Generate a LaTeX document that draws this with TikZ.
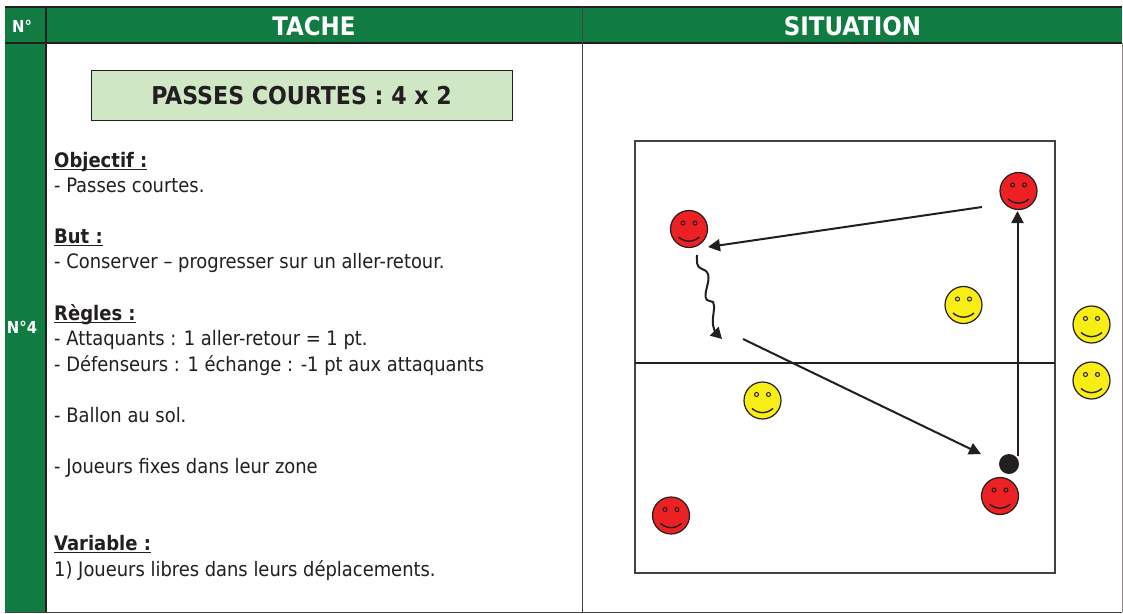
\documentclass[tikz,border=0pt]{standalone}
\usepackage{fontspec}
\setmainfont{DejaVu Sans Condensed}
\usetikzlibrary{arrows.meta}
\definecolor{hdrgreen}{RGB}{16,124,65}
\definecolor{lightgreen}{RGB}{208,231,198}
\definecolor{ink}{RGB}{35,31,32}
\definecolor{smred}{RGB}{237,32,36}
\definecolor{smyellow}{RGB}{248,237,20}
\tikzset{
  grid line/.style={draw=ink,line width=1.6pt},
  thin line/.style={draw=ink!85,line width=1pt},
  hdr/.style={text=white,font=\bfseries\fontsize{25.5}{28}\selectfont,anchor=center},
  hdrsmall/.style={text=white,font=\bfseries\fontsize{16.5}{18}\selectfont,anchor=center},
  body/.style={text=ink,font=\fontsize{19.9}{22}\selectfont,anchor=base west,inner sep=0pt},
  bodyhead/.style={text=ink,font=\bfseries\fontsize{20}{22}\selectfont,anchor=base west,inner sep=0pt},
  pass/.style={draw=ink,line width=2pt,-{Triangle[length=12pt,width=12pt]},shorten >=0pt},
  face/.style={circle,draw=ink,line width=1.2pt,minimum size=37pt,inner sep=0pt},
}
\newcommand{\smileyface}[4]{%
  \node[face,fill=#4] (#1) at (#2,#3) {};
  \draw[ink,line width=1pt] (#2-6,#3-6) circle[radius=2pt];
  \draw[ink,line width=1pt] (#2+6,#3-6) circle[radius=2pt];
  \draw[ink,line width=1.4pt] (#2-10.5,#3+8) .. controls (#2-4,#3+13.5) and (#2+4,#3+13.5) .. (#2+10.5,#3+8);
}
\newlength{\ullen}
\newcommand{\ulbf}[1]{\settowidth{\ullen}{#1}\rlap{\rule[-3.4pt]{\ullen}{1.8pt}}#1}
\begin{document}
\begin{tikzpicture}[x=1pt,y=-1pt]
\useasboundingbox (0,0) rectangle (1123,613);
\fill[white] (0,0) rectangle (1123,613);
% table
\fill[hdrgreen] (5,7) rectangle (1122,43);
\fill[hdrgreen] (5,43) rectangle (46,612);
\draw[grid line] (5,7) -- (1122,7);
\draw[grid line] (5,43) -- (1122,43);
\draw[grid line] (46,7) -- (46,612);
\draw[thin line] (582.5,7) -- (582.5,612);
\draw[thin line] (5,612) -- (1122,612);
\draw[draw=ink!55,line width=1pt] (1122,43) -- (1122,612);
\node[hdrsmall] (hn) at (22,26) {N°};
\node[hdr] (ht) at (314,26) {TACHE};
\node[hdr] (hs) at (852.5,26) {SITUATION};
\node[hdrsmall] (n4) at (22,327) {N°4};
% title
\node[draw=ink,line width=1pt,fill=lightgreen,minimum width=421pt,minimum height=50pt,inner sep=0pt,text=ink,font=\bfseries\fontsize{24.6}{28}\selectfont] (title) at (301.5,95.5) {PASSES COURTES : 4 x 2};
% body
\node[bodyhead] (t1) at (54,167) {\ulbf{Objectif :}};
\node[body] (t2) at (54,192) {- Passes courtes.};
\node[bodyhead] (t3) at (54,243) {\ulbf{But :}};
\node[body] (t4) at (54,268) {- Conserver – progresser sur un aller-retour.};
\node[bodyhead] (t5) at (54,320) {\ulbf{Règles :}};
\node[body] (t6) at (54,345) {- Attaquants : 1 aller-retour = 1 pt.};
\node[body] (t7) at (54,371) {- Défenseurs : 1 échange : -1 pt aux attaquants};
\node[body] (t8) at (54,422) {- Ballon au sol.};
\node[body] (t9) at (54,473) {- Joueurs fixes dans leur zone};
\node[bodyhead] (t10) at (54,550) {\ulbf{Variable :}};
\node[body] (t11) at (54,576) {1) Joueurs libres dans leurs déplacements.};
% field
\draw[draw=ink!85,line width=1.4pt] (635,141) rectangle (1055,573);
\draw[ink,line width=1.2pt] (635,363) -- (1055,363);
% players
\smileyface{r1}{1018.5}{191}{smred}
\smileyface{r2}{689}{229}{smred}
\smileyface{r3}{1000}{496}{smred}
\smileyface{r4}{671}{515.5}{smred}
\smileyface{y1}{963.5}{305}{smyellow}
\smileyface{y2}{762.5}{400.5}{smyellow}
\smileyface{y3}{1091.5}{324.5}{smyellow}
\smileyface{y4}{1091.5}{380.5}{smyellow}
\node[circle,fill=ink,minimum size=20pt,inner sep=0pt] (ball) at (1009,464) {};
% arrows
\coordinate (a1s) at (982,207);
\coordinate (a1e) at (708,247);
\coordinate (a2s) at (743,339);
\coordinate (a2e) at (981,454);
\coordinate (a3s) at (1017.5,456);
\coordinate (a3e) at (1017.5,211);
\coordinate (ws) at (697,255);
\coordinate (we) at (722,339);
\draw[pass] (a1s) -- (a1e);
\draw[pass] (a2s) -- (a2e);
\draw[pass] (a3s) -- (a3e);
\draw[pass,-{Triangle[length=11pt,width=12pt]}] (ws) .. controls (697,262) and (696,267) .. (702,269)
  .. controls (712,272) and (708,282) .. (706,291)
  .. controls (704,302) and (708,300) .. (713,302)
  .. controls (716,306) and (712,315) .. (713,325)
  .. controls (714,330) and (716,333) .. (we);
\end{tikzpicture}
\end{document}
